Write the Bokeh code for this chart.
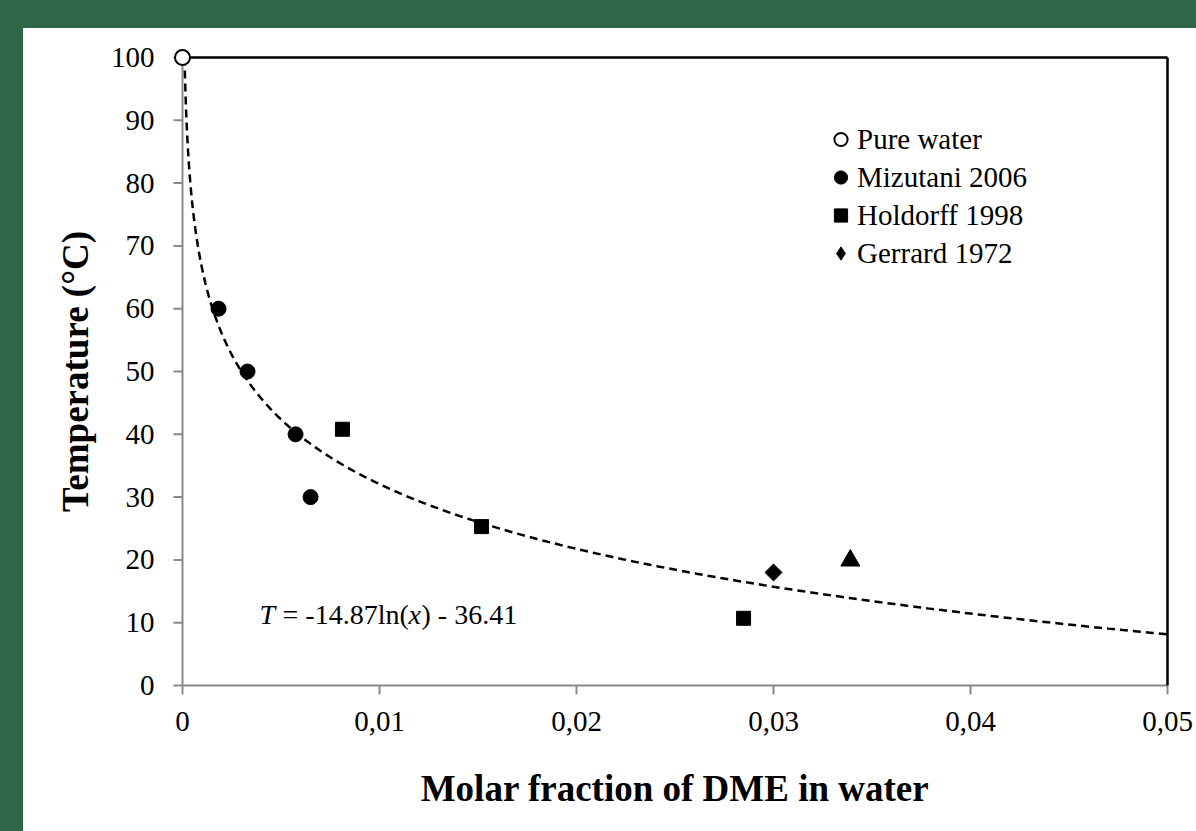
import numpy as np
from bokeh.plotting import figure
from bokeh.layouts import column
from bokeh.models import (FixedTicker, CustomJSTickFormatter, Legend, LegendItem,
                          Label, Range1d, ColumnDataSource)
from bokeh.embed import file_html
from bokeh.resources import INLINE

# ---------------- data ----------------
pure_x = [0.0]
pure_t = [100.0]

mizutani_x = [0.00183, 0.00330, 0.00574, 0.00650]
mizutani_t = [60.0, 50.0, 40.0, 30.0]

holdorff_x = [0.00812, 0.01518, 0.02848]
holdorff_t = [40.8, 25.3, 10.7]

gerrard_x = [0.0300]
gerrard_t = [18.0]

other_x = [0.0339]
other_t = [19.9]

fit_a = -14.87
fit_b = -36.41

x_ticks = [0, 0.01, 0.02, 0.03, 0.04, 0.05]
y_ticks = [0, 10, 20, 30, 40, 50, 60, 70, 80, 90, 100]

FONT = "Liberation Serif"
AXIS_GRAY = "#8a8a8a"

# trend line drawn from the printed equation T = a ln(x) + b
x_start = float(np.exp((y_ticks[-1] - fit_b) / fit_a))
fit_x = np.geomspace(x_start, x_ticks[-1], 400)
fit_t = fit_a * np.log(fit_x) + fit_b

# data units per screen pixel; the frame is padded by 10 px so the corner marker
# and the outward ticks are not clipped
x0, x1 = x_ticks[0], x_ticks[-1]
y0, y1 = y_ticks[0], y_ticks[-1]
dx = (x1 - x0) / 985
dy = (y1 - y0) / 628
pad = 10
tick = 9

p = figure(width=1173, height=803, output_backend="svg", toolbar_location=None,
           x_range=Range1d(x0 - pad * dx, x1 + pad * dx),
           y_range=Range1d(y0 - pad * dy, y1 + pad * dy),
           min_border_left=149, min_border_right=19, min_border_top=19, min_border_bottom=136)
p.background_fill_color = "white"
p.border_fill_color = "white"
p.outline_line_color = None
p.xgrid.visible = False
p.ygrid.visible = False

for ax in (p.xaxis[0], p.yaxis[0]):
    ax.axis_line_color = None
    ax.major_tick_line_color = None
    ax.minor_tick_line_color = None
    ax.major_tick_out = 0
    ax.major_tick_in = 0
    ax.major_label_text_font = FONT
    ax.major_label_text_font_size = "29px"
    ax.major_label_text_color = "black"
    ax.axis_label_text_font = FONT
    ax.axis_label_text_font_style = "bold"
    ax.axis_label_text_font_size = "37px"
    ax.axis_label_text_color = "black"

p.xaxis.ticker = FixedTicker(ticks=x_ticks)
p.yaxis.ticker = FixedTicker(ticks=y_ticks)
p.xaxis.formatter = CustomJSTickFormatter(
    code="return tick == 0 ? '0' : tick.toFixed(2).replace('.', ',');")
p.xaxis.major_label_standoff = 16
p.yaxis.major_label_standoff = 18
p.xaxis.axis_label = "Molar fraction of DME in water"
p.yaxis.axis_label = "Temperature (°C)"
p.xaxis.axis_label_standoff = 34
p.yaxis.axis_label_standoff = 12

# gray axis lines and outward ticks at x = 0 and T = 0
p.segment(x0=[x0, x0], y0=[y0, y0], x1=[x0, x1], y1=[y1, y0],
          line_color=AXIS_GRAY, line_width=2)
p.segment(x0=[x0 - tick * dx] * len(y_ticks), y0=y_ticks,
          x1=[x0] * len(y_ticks), y1=y_ticks, line_color=AXIS_GRAY, line_width=2)
p.segment(x0=x_ticks, y0=[y0] * len(x_ticks),
          x1=x_ticks, y1=[y0 - tick * dy] * len(x_ticks), line_color=AXIS_GRAY, line_width=2)

# top / right frame lines (black)
p.segment(x0=[x0, x1], y0=[y1, y0], x1=[x1, x1], y1=[y1, y1],
          line_color="black", line_width=2.5)

# trend line
p.line(fit_x, fit_t, line_color="black", line_width=2.5, line_dash="8 5")

r_miz = p.scatter(mizutani_x, mizutani_t, marker="circle", size=15, fill_color="black",
                  line_color="black")
r_hol = p.scatter(holdorff_x, holdorff_t, marker="square", size=14, fill_color="black",
                  line_color="black")

# Gerrard: plotted as a rotated square; an extra NaN row carries the legend's diamond glyph
ger_src = ColumnDataSource(dict(
    x=gerrard_x + [float("nan")],
    y=gerrard_t + [float("nan")],
    marker=["square"] * len(gerrard_x) + ["diamond"],
    angle=[np.pi / 4] * len(gerrard_x) + [0.0],
    size=[12] * len(gerrard_x) + [14],
))
r_ger = p.scatter("x", "y", source=ger_src, marker="marker", angle="angle", size="size",
                  fill_color="black", line_color="black")

p.scatter(other_x, other_t, marker="triangle", size=19, fill_color="black", line_color="black")

r_pure = p.scatter(pure_x, pure_t, marker="circle", size=15, fill_color="white",
                   line_color="black", line_width=2)

legend = Legend(items=[
    LegendItem(label="Pure water", renderers=[r_pure]),
    LegendItem(label="Mizutani 2006", renderers=[r_miz]),
    LegendItem(label="Holdorff 1998", renderers=[r_hol]),
    LegendItem(label="Gerrard 1972", renderers=[r_ger], index=len(gerrard_x)),
], location=(652, 423))
legend.label_text_font = FONT
legend.label_text_font_size = "29px"
legend.label_text_color = "black"
legend.glyph_width = 33
legend.glyph_height = 38
legend.label_height = 38
legend.label_standoff = 0
legend.spacing = 0
legend.padding = 0
legend.margin = 0
legend.border_line_color = None
legend.background_fill_alpha = 0
p.add_layout(legend)

# equation
eq_x = 0.00391
eq_y = 11.3
eq_parts = [("T", "italic", 0), ("= -14.87ln(", "normal", 23), ("x", "italic", 149),
            (") - 36.41", "normal", 162)]
for txt, style, off in eq_parts:
    p.add_layout(Label(x=eq_x, y=eq_y, x_offset=off, text=txt, text_font=FONT,
                       text_font_size="28px", text_font_style=style, text_color="black",
                       text_baseline="alphabetic"))

inner = column(p, width=1173, height=803, margin=(28, 0, 0, 23),
               styles={"background-color": "white"})
layout = column(inner, width=1196, height=831,
                styles={"background-color": "#2e6748"})

open("out.html", "w").write(file_html(layout, INLINE))
